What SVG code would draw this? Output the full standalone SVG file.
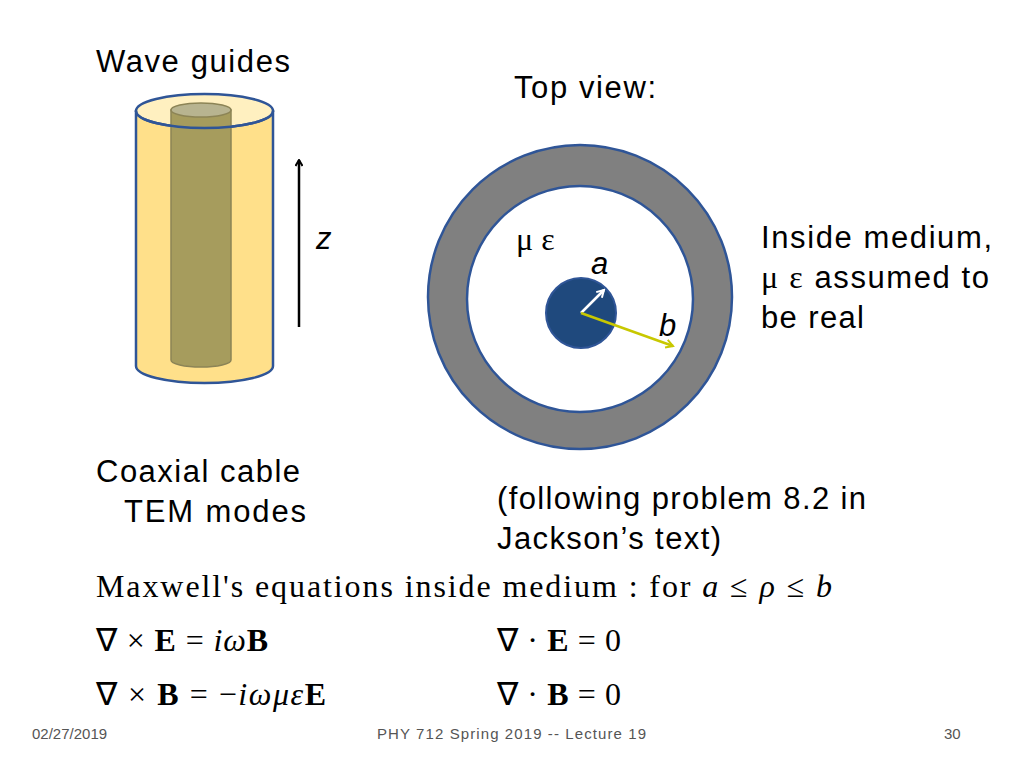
<svg xmlns="http://www.w3.org/2000/svg" width="1024" height="768" viewBox="0 0 1024 768">
<defs>
<marker id="ab" markerWidth="8" markerHeight="8" refX="7" refY="4" orient="auto" markerUnits="userSpaceOnUse"><path d="M1,0.5 L7,4 L1,7.5" fill="none" stroke="#000" stroke-width="2"/></marker>
<marker id="aw" markerWidth="10" markerHeight="10" refX="8" refY="5" orient="auto" markerUnits="userSpaceOnUse"><path d="M1,1 L8,5 L1,9" fill="none" stroke="#fff" stroke-width="2"/></marker>
<marker id="ay" markerWidth="10" markerHeight="10" refX="8" refY="5" orient="auto" markerUnits="userSpaceOnUse"><path d="M1,1 L8,5 L1,9" fill="none" stroke="#c8c800" stroke-width="2"/></marker>
</defs>
<style>
text{font-family:"Liberation Sans",Arial,sans-serif;fill:#000}
.t{font-size:31px}
.s{font-size:15px;fill:#555}
.m{font-family:"Liberation Serif","Times New Roman",serif;font-size:32px}
</style>
<rect width="1024" height="768" fill="#fff"/>
<g id="cable">
<path d="M136,111 L136,366 A68.5,17 0 0 0 273,366 L273,111 Z" fill="#ffe08a" stroke="#2f5597" stroke-width="2.5"/>
<ellipse cx="204.5" cy="111" rx="68.5" ry="17" fill="#fff0c0" stroke="#2f5597" stroke-width="2.5"/>
<path d="M171,110 L171,360 A30,7 0 0 0 231,360 L231,110 Z" fill="#a69c5d" stroke="#8c8456" stroke-width="1.5"/>
<ellipse cx="201" cy="110" rx="30" ry="7" fill="#b8b490" stroke="#8c8456" stroke-width="1.5"/>
<path d="M136,111 A68.5,17 0 0 0 273,111" fill="none" stroke="#2f5597" stroke-width="2.5"/>
</g>
<g id="connectors">
<line x1="299" y1="327" x2="299" y2="160" stroke="#000" stroke-width="2.5" marker-end="url(#ab)"/>
</g>
<g id="topview">
<circle cx="580" cy="297" r="152" fill="#808080" stroke="#2f5597" stroke-width="2.5"/>
<circle cx="580" cy="299" r="113" fill="#fff" stroke="#2f5597" stroke-width="2.5"/>
<circle cx="581" cy="313" r="35" fill="#1f497d" stroke="#2f5597" stroke-width="2"/>
<line x1="581" y1="313" x2="604" y2="290" stroke="#fff" stroke-width="2.5" marker-end="url(#aw)"/>
<line x1="581" y1="313" x2="673" y2="346" stroke="#c8c800" stroke-width="2.5" marker-end="url(#ay)"/>
</g>
<text class="t" x="96" y="72" textLength="194">Wave guides</text>
<text class="t" x="514" y="98" textLength="142">Top view:</text>
<text class="t" x="316" y="249" font-style="italic">z</text>
<text class="m" x="516" y="250" font-size="28">μ ε</text>
<text class="t" x="591" y="274" font-style="italic">a</text>
<text class="t" x="659" y="336" font-style="italic">b</text>
<text class="t" x="761" y="248" textLength="231">Inside medium,</text>
<text class="t" x="761" y="288" textLength="228"><tspan class="m" font-size="28">μ ε</tspan> assumed to</text>
<text class="t" x="761" y="328" textLength="103">be real</text>
<text class="t" x="96" y="482" textLength="204">Coaxial cable</text>
<text class="t" x="124" y="522" textLength="182">TEM modes</text>
<text class="t" x="497" y="509" textLength="369">(following problem 8.2 in</text>
<text class="t" x="497" y="549" textLength="224">Jackson’s text)</text>
<text class="m" x="96" y="597" textLength="736">Maxwell's equations inside medium :  for <tspan font-style="italic">a</tspan> ≤ <tspan font-style="italic">ρ</tspan> ≤ <tspan font-style="italic">b</tspan></text>
<text class="m" x="96" y="651" textLength="172">∇ × <tspan font-weight="bold">E</tspan> = <tspan font-style="italic">iω</tspan><tspan font-weight="bold">B</tspan></text>
<text class="m" x="497" y="651" textLength="124">∇ · <tspan font-weight="bold">E</tspan> = 0</text>
<text class="m" x="96" y="705" textLength="230">∇ × <tspan font-weight="bold">B</tspan> = −<tspan font-style="italic">iωμε</tspan><tspan font-weight="bold">E</tspan></text>
<text class="m" x="497" y="705" textLength="124">∇ · <tspan font-weight="bold">B</tspan> = 0</text>
<text class="s" x="32" y="739">02/27/2019</text>
<text class="s" x="377" y="739" textLength="269">PHY 712  Spring 2019 -- Lecture 19</text>
<text class="s" x="944" y="739">30</text>
</svg>
